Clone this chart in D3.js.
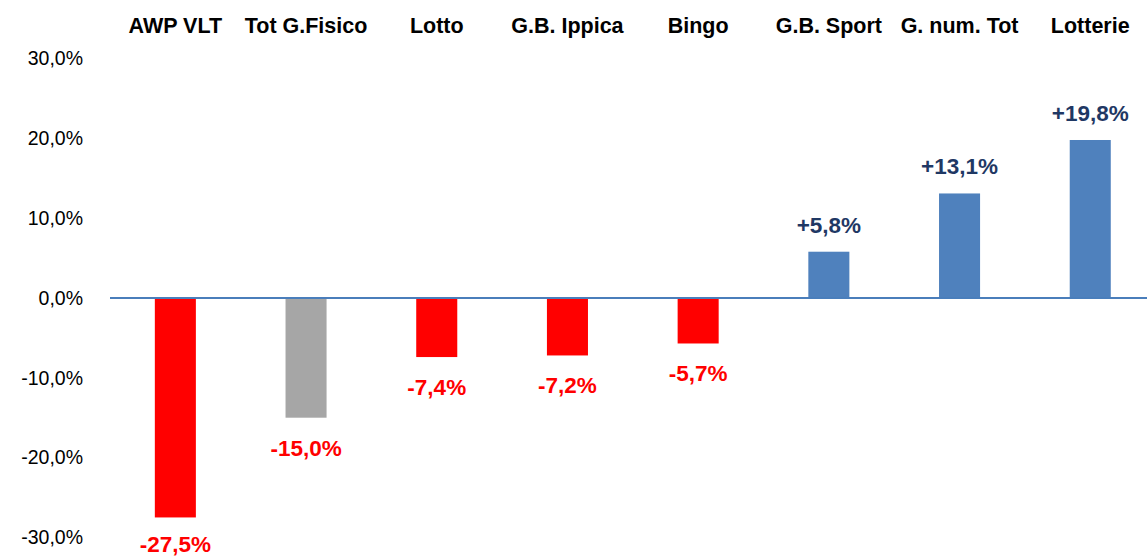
<!DOCTYPE html>
<html>
<head>
<meta charset="utf-8">
<script src="https://cdn.jsdelivr.net/npm/d3@7"></script>
<style>
  body { margin: 0; background: #fff; }
  svg { display: block; font-family: "Liberation Sans", Arial, sans-serif; }
</style>
</head>
<body>
<div id="chart"></div>
<script>
//
// DATA
//
const categories = ['AWP VLT', 'Tot G.Fisico', 'Lotto', 'G.B. Ippica', 'Bingo', 'G.B. Sport', 'G. num. Tot', 'Lotterie']
const changes = [-27.5, -15.0, -7.4, -7.2, -5.7, 5.8, 13.1, 19.8]
const yTicks = [30, 20, 10, 0, -10, -20, -30]
// the total bar is shown in grey
const totalCategory = 'Tot G.Fisico'

//
// GLOBALS
//
const width = 1147
const height = 558

const svg = d3.select('#chart').append('svg')
    .attr('width', width)
    .attr('height', height)

// scales
const x = d3.scaleBand()
    .domain(categories)
    .range([110, 1155.6])
    .paddingInner(0.686)
    .paddingOuter(0.343)

const y = d3.scaleLinear()
    .domain([-30, 30])
    .range([537.4, 58.6])

// format like "20,0%" with a comma decimal
const fmt = (v, sign) => {
    const s = Math.abs(v).toFixed(1).replace('.', ',') + '%'
    if (v < 0) return '-' + s
    return (sign && v > 0 ? '+' : '') + s
}

// y axis labels (no line, no ticks)
const yAxis = d3.axisLeft(y)
    .tickValues(yTicks)
    .tickFormat(d => fmt(d, false))
    .tickSize(0)
    .tickPadding(0)

svg.append('g')
    .attr('transform', 'translate(83,0)')
    .call(yAxis)
    .call(g => g.select('.domain').remove())
    .call(g => g.selectAll('text')
        .attr('font-family', '"Liberation Sans", Arial, sans-serif')
        .attr('font-size', 19.5)
        .attr('fill', '#000'))

// category names along the top
svg.append('g')
    .selectAll('text')
    .data(categories)
    .join('text')
    .attr('x', d => x(d) + x.bandwidth() / 2)
    .attr('y', 33)
    .attr('text-anchor', 'middle')
    .attr('font-size', 21.5)
    .attr('font-weight', 'bold')
    .attr('fill', '#000')
    .text(d => d)

// bars
const data = categories.map((c, i) => ({ cat: c, val: changes[i] }))

svg.append('g')
    .selectAll('rect')
    .data(data)
    .join('rect')
    .attr('x', d => x(d.cat))
    .attr('width', x.bandwidth())
    .attr('y', d => y(Math.max(0, d.val)))
    .attr('height', d => Math.abs(y(d.val) - y(0)))
    .attr('fill', d => d.cat === totalCategory ? '#a6a6a6' : (d.val < 0 ? '#ff0000' : '#4f81bd'))

// zero line
svg.append('line')
    .attr('x1', 110)
    .attr('x2', width)
    .attr('y1', y(0))
    .attr('y2', y(0))
    .attr('stroke', '#4a7ebb')
    .attr('stroke-width', 2)

// value labels (negative ones kept inside the picture)
svg.append('g')
    .selectAll('text')
    .data(data)
    .join('text')
    .attr('x', d => x(d.cat) + x.bandwidth() / 2)
    .attr('y', d => d.val < 0 ? Math.min(y(d.val) + 38, height - 6) : y(d.val) - 19)
    .attr('text-anchor', 'middle')
    .attr('font-size', 22.5)
    .attr('font-weight', 'bold')
    .attr('fill', d => d.val < 0 ? '#ff0000' : '#1f3864')
    .text(d => fmt(d.val, true))
</script>
</body>
</html>
